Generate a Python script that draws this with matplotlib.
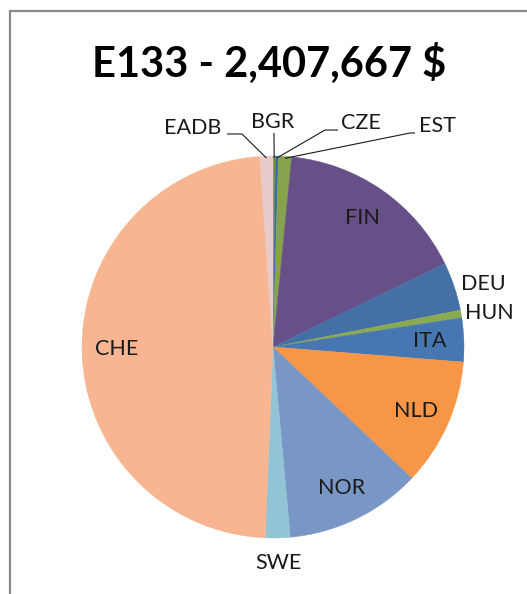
import matplotlib
matplotlib.use('Agg')
import matplotlib.pyplot as plt
from matplotlib.patches import Rectangle
import numpy as np

# data (dollar amounts, in slice order)
countries = ['BGR', 'CZE', 'EST', 'FIN', 'DEU', 'HUN', 'ITA', 'NLD', 'NOR', 'SWE', 'CHE', 'EADB']
amounts = [4800, 6300, 26500, 391200, 98700, 15600, 89100, 260000, 276900, 50600, 1161467, 26500]
title = 'E133 - 2,407,667 $'

colors = ['#77933C', '#3D6CA8', '#86A24C', '#674F88', '#4470A6', '#8AAA52',
          '#4677B2', '#F79646', '#7896C6', '#93C4D5', '#F8B592', '#E7CBCB']

plt.rcParams['font.family'] = ['Lato', 'DejaVu Sans']
W, H = 527, 594
fig = plt.figure(figsize=(W / 100, H / 100), dpi=100)

# grey chart frame (cut off at right and bottom like the original)
fig.patches.append(Rectangle((9.5 / W, -0.1), 1.2, (H - 10.5) / H + 0.1,
                             transform=fig.transFigure, fill=False,
                             edgecolor='#898989', linewidth=1.6))

cx, cy, R = 273, 347, 191
ax = fig.add_axes([(cx - R) / W, (H - cy - R) / H, 2 * R / W, 2 * R / H])
wedges, _ = ax.pie(amounts, colors=colors, startangle=90, counterclock=False,
                   radius=1.0)
for w, c in zip(wedges, colors):
    w.set_edgecolor(c)
    w.set_linewidth(0.3)
ax.set_xlim(-1, 1)
ax.set_ylim(-1, 1)
ax.set_aspect('equal')
ax.axis('off')

def mid(w, r):
    a = np.deg2rad((w.theta1 + w.theta2) / 2)
    return r * np.cos(a), r * np.sin(a)

def px(x, y):
    return (x - cx) / R, (cy - y) / R

fs = 15.5
tc = '#1a1a1a'
# inside labels
for name in ['FIN', 'ITA', 'NLD', 'NOR', 'CHE']:
    w = wedges[countries.index(name)]
    x, y = mid(w, 0.82)
    ax.text(x, y, name, ha='center', va='center', fontsize=fs, color=tc)

# outside labels on the right
for name, r in [('DEU', 1.04), ('HUN', 1.02)]:
    w = wedges[countries.index(name)]
    x, y = mid(w, r)
    ax.text(x, y, name, ha='left', va='center', fontsize=fs, color=tc)
x, y = mid(wedges[countries.index('SWE')], 1.13)
ax.text(x, y, 'SWE', ha='center', va='center', fontsize=fs, color=tc)

# small slices at the top with leader lines
leaders = {
    'EADB': [(193, 128.5), (227, 134), (242, 134)],
    'BGR': [(272.5, 121.5), (274, 133), (274, 133)],
    'CZE': [(361, 123), (338, 130), (325, 130)],
    'EST': [(437, 126), (415, 133), (410, 133)],
}
for name, (lab, p1, p2) in leaders.items():
    w = wedges[countries.index(name)]
    ex, ey = mid(w, 0.99)
    a, b = px(*p1)
    c, d = px(*p2)
    ax.plot([a, c, ex], [b, d, ey], color='#1a1a1a', linewidth=0.8,
            clip_on=False, solid_capstyle='butt')
    lx, ly = px(*lab)
    ax.text(lx, ly, name, ha='center', va='center', fontsize=fs, color=tc)

fig.text(269 / W, (H - 77) / H, title, ha='center', va='baseline',
         fontsize=30, fontweight='bold', color='black')

fig.savefig('out.png', dpi=100)
